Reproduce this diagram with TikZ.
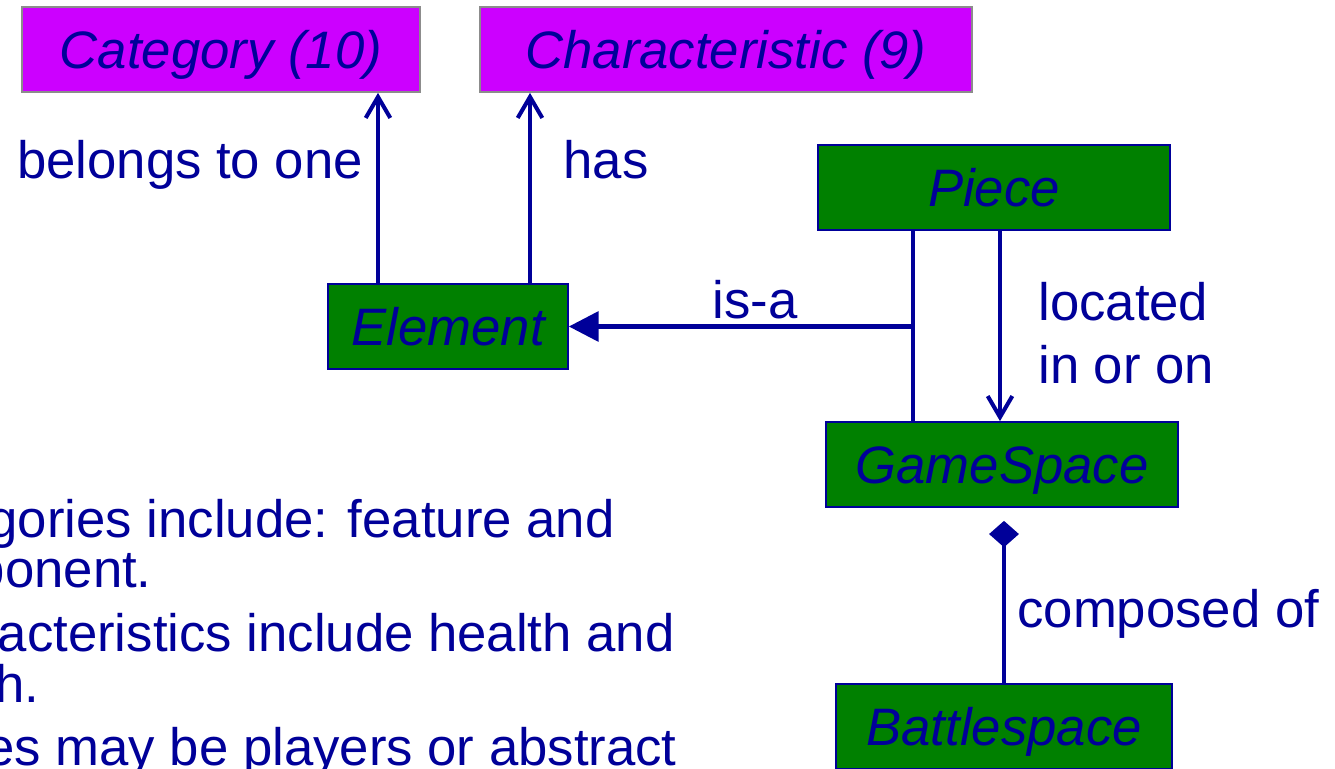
\documentclass[tikz,border=0pt]{standalone}
\usepackage{fontspec}
\setmainfont{Liberation Sans}
\usetikzlibrary{arrows.meta, positioning, calc}
\definecolor{inkblue}{RGB}{0,0,153}
\definecolor{typecolor}{RGB}{204,0,255}
\definecolor{typeborder}{RGB}{140,140,140}
\definecolor{classcolor}{RGB}{0,128,0}
\newcommand{\bigfont}{\fontsize{30}{35.7}\selectfont}
\tikzset{
    typebox/.style={rectangle, draw=typeborder, line width=1pt, fill=typecolor,
        minimum height=1.7cm, inner sep=0pt, text height=21.5pt, text depth=0pt,
        text=inkblue, font=\bigfont\itshape},
    classbox/.style={rectangle, draw=inkblue, line width=1pt, fill=classcolor,
        minimum height=1.7cm, inner sep=0pt, text height=21.5pt, text depth=0pt,
        text=inkblue, font=\bigfont\itshape},
    rolename/.style={inner sep=0pt, text=inkblue, font=\bigfont},
    link/.style={draw=inkblue, line width=2.3pt},
    arrow/.style={link, -{Straight Barb[length=12pt,width=14pt]}},
    inherit/.style={link, -{Triangle[length=17pt,width=17pt]}},
    whole/.style={link, -{Diamond[length=15pt,width=17pt]}}
}

\begin{document}
\begin{tikzpicture}[x=0.02cm, y=-0.02cm]

    \clip (0,0) rectangle (1335,768);
    \useasboundingbox (0,0) rectangle (1335,768);

    \node[typebox, minimum width=7.96cm] (category) at (221,49.5) {Category (10)};
    \node[typebox, minimum width=9.84cm] (characteristic) at (726,49.5) {Characteristic (9)};

    \node[classbox, minimum width=4.8cm] (element) at (448,326.5) {Element};
    \node[classbox, minimum width=7.04cm] (piece) at (994,187.5) {Piece};
    \node[classbox, minimum width=7.04cm] (gamespace) at (1002,464.5) {GameSpace};
    \node[classbox, minimum width=6.72cm] (battlespace) at (1004,726.5) {Battlespace};

    \coordinate (catfoot) at (378,0);
    \coordinate (charfoot) at (530,0);
    \coordinate (isa) at (913,326.5);
    \coordinate (locfoot) at (1000,0);

    \draw[arrow] (element.north -| catfoot) -- (category.south -| catfoot);
    \draw[arrow] (element.north -| charfoot) -- (characteristic.south -| charfoot);
    \draw[link] (piece.south -| isa) -- (gamespace.north -| isa);
    \draw[inherit] (isa) -- (element.east);
    \draw[arrow] (piece.south -| locfoot) -- (gamespace.north -| locfoot);
    \draw[whole, shorten >=7.4pt] (battlespace.north) -- (battlespace.north |- gamespace.south);

    \node[rolename, anchor=base] (belongs) at (190,178) {belongs to one};
    \node[rolename, anchor=base] (has) at (606,178) {has};
    \node[rolename, anchor=base] (isatext) at (755,318) {is-a};
    \node[rolename, anchor=north west, align=left] (located) at (1038,282) {located\\in or on};
    \node[rolename, anchor=base west] (composed) at (1017,627) {composed of};

    % notes, cut off at the left edge
    \node[rolename, anchor=base east] (noteA) at (615,537) {gories include: feature and};
    \node[rolename, anchor=base east] (noteB) at (152,587) {ponent.};
    \node[rolename, anchor=base east] (noteC) at (675,651) {acteristics include health and};
    \node[rolename, anchor=base east] (noteD) at (40,702) {h.};
    \node[rolename, anchor=base east] (noteE) at (677,765) {es may be players or abstract};

\end{tikzpicture}
\end{document}
